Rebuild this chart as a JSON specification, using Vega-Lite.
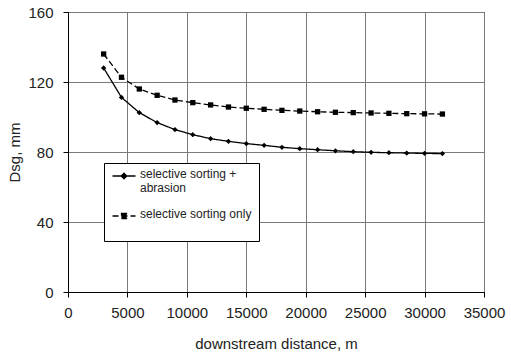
{
  "$schema": "https://vega.github.io/schema/vega-lite/v6.json",
  "width": 416,
  "height": 280,
  "autosize": {"type": "none"},
  "padding": {"left": 68, "top": 12, "right": 27, "bottom": 64},
  "background": "white",
  "config": {
    "view": {"stroke": "black", "strokeWidth": 1},
    "font": "Liberation Sans",
    "axis": {
      "domainColor": "black",
      "domainWidth": 1,
      "tickColor": "black",
      "tickSize": 5,
      "gridColor": "#7a7a7a",
      "gridWidth": 1,
      "gridOpacity": 1,
      "labelFont": "Liberation Sans",
      "labelFontSize": 15,
      "labelColor": "#222",
      "labelOverlap": false,
      "labelFlush": false,
      "titleFont": "Liberation Sans",
      "titleFontSize": 15,
      "titleFontWeight": "normal",
      "titleColor": "#222"
    }
  },
  "data": {
    "values": [
      {"d": 3000, "v": 128.0, "s": "selective sorting + abrasion"},
      {"d": 4500, "v": 111.2, "s": "selective sorting + abrasion"},
      {"d": 6000, "v": 102.5, "s": "selective sorting + abrasion"},
      {"d": 7500, "v": 96.8, "s": "selective sorting + abrasion"},
      {"d": 9000, "v": 92.8, "s": "selective sorting + abrasion"},
      {"d": 10500, "v": 89.9, "s": "selective sorting + abrasion"},
      {"d": 12000, "v": 87.6, "s": "selective sorting + abrasion"},
      {"d": 13500, "v": 86.1, "s": "selective sorting + abrasion"},
      {"d": 15000, "v": 84.8, "s": "selective sorting + abrasion"},
      {"d": 16500, "v": 83.8, "s": "selective sorting + abrasion"},
      {"d": 18000, "v": 82.7, "s": "selective sorting + abrasion"},
      {"d": 19500, "v": 81.9, "s": "selective sorting + abrasion"},
      {"d": 21000, "v": 81.3, "s": "selective sorting + abrasion"},
      {"d": 22500, "v": 80.7, "s": "selective sorting + abrasion"},
      {"d": 24000, "v": 80.2, "s": "selective sorting + abrasion"},
      {"d": 25500, "v": 79.8, "s": "selective sorting + abrasion"},
      {"d": 27000, "v": 79.6, "s": "selective sorting + abrasion"},
      {"d": 28500, "v": 79.4, "s": "selective sorting + abrasion"},
      {"d": 30000, "v": 79.2, "s": "selective sorting + abrasion"},
      {"d": 31500, "v": 79.1, "s": "selective sorting + abrasion"},
      {"d": 3000, "v": 136.0, "s": "selective sorting only"},
      {"d": 4500, "v": 122.7, "s": "selective sorting only"},
      {"d": 6000, "v": 116.0, "s": "selective sorting only"},
      {"d": 7500, "v": 112.4, "s": "selective sorting only"},
      {"d": 9000, "v": 109.7, "s": "selective sorting only"},
      {"d": 10500, "v": 108.2, "s": "selective sorting only"},
      {"d": 12000, "v": 106.9, "s": "selective sorting only"},
      {"d": 13500, "v": 105.7, "s": "selective sorting only"},
      {"d": 15000, "v": 105.0, "s": "selective sorting only"},
      {"d": 16500, "v": 104.4, "s": "selective sorting only"},
      {"d": 18000, "v": 103.8, "s": "selective sorting only"},
      {"d": 19500, "v": 103.4, "s": "selective sorting only"},
      {"d": 21000, "v": 103.0, "s": "selective sorting only"},
      {"d": 22500, "v": 102.7, "s": "selective sorting only"},
      {"d": 24000, "v": 102.5, "s": "selective sorting only"},
      {"d": 25500, "v": 102.3, "s": "selective sorting only"},
      {"d": 27000, "v": 102.1, "s": "selective sorting only"},
      {"d": 28500, "v": 101.9, "s": "selective sorting only"},
      {"d": 30000, "v": 101.8, "s": "selective sorting only"},
      {"d": 31500, "v": 101.7, "s": "selective sorting only"}
    ]
  },
  "encoding": {
    "x": {
      "field": "d",
      "type": "quantitative",
      "scale": {"domain": [0, 35000], "nice": false, "zero": false},
      "axis": {
        "values": [0, 5000, 10000, 15000, 20000, 25000, 30000, 35000],
        "format": "d",
        "title": "downstream distance, m",
        "labelPadding": 8,
        "titlePadding": 16
      }
    },
    "y": {
      "field": "v",
      "type": "quantitative",
      "scale": {"domain": [0, 160], "nice": false},
      "axis": {
        "values": [0, 40, 80, 120, 160],
        "title": "Dsg, mm",
        "labelPadding": 10,
        "titlePadding": 5
      }
    }
  },
  "layer": [
    {
      "mark": {"type": "line", "color": "black", "strokeWidth": 1.3},
      "encoding": {
        "strokeDash": {
          "field": "s",
          "type": "nominal",
          "scale": {
            "domain": ["selective sorting + abrasion", "selective sorting only"],
            "range": [[1, 0], [6, 3]]
          },
          "legend": {
            "orient": "none",
            "legendX": 36,
            "legendY": 151,
            "title": null,
            "fillColor": "white",
            "strokeColor": "black",
            "padding": 7,
            "symbolSize": 100,
            "symbolOffset": 7,
            "symbolStrokeWidth": 1.3,
            "symbolStrokeColor": "black",
            "labelFont": "Liberation Sans",
            "labelFontSize": 12,
            "labelColor": "#222",
            "labelBaseline": "top",
            "rowPadding": 14,
            "labelOffset": 10,
            "labelExpr": "datum.label == 'selective sorting + abrasion' ? ['selective sorting +', 'abrasion'] : [datum.label, ' ']",
            "encode": {
              "labels": {
                "update": {"dy": {"value": -7}}
              },
              "symbols": {
                "update": {
                  "shape": {"signal": "datum.value === 'selective sorting only' ? 'M-2.3,0H2.3M-0.5,-0.5H0.5V0.5H-0.5Z' : 'M-2.3,0H2.3M0,-0.55L0.55,0L0,0.55L-0.55,0Z'"},
                  "fill": {"value": "black"},
                  "stroke": {"value": "black"}
                }
              }
            }
          }
        }
      }
    },
    {
      "transform": [{"filter": "datum.s == 'selective sorting + abrasion'"}],
      "mark": {"type": "point", "filled": true, "color": "black", "size": 28, "opacity": 1, "shape": "diamond"}
    },
    {
      "transform": [{"filter": "datum.s == 'selective sorting only'"}],
      "mark": {"type": "point", "filled": true, "color": "black", "size": 28, "opacity": 1, "shape": "square"}
    }
  ]
}
